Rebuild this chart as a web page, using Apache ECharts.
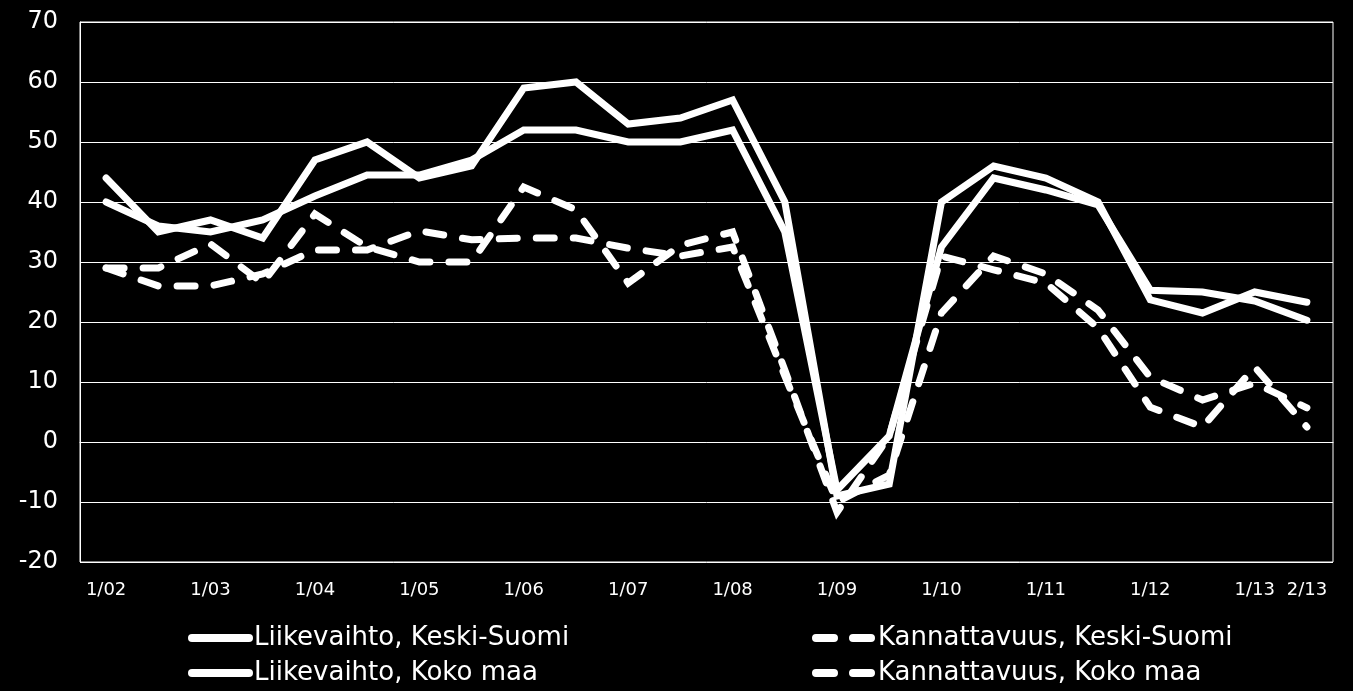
<!DOCTYPE html>
<html>
<head>
<meta charset="utf-8">
<title>Liikevaihto ja kannattavuus</title>
<script src="https://cdn.jsdelivr.net/npm/echarts@6/dist/echarts.min.js"></script>
<style>
  html, body { margin: 0; padding: 0; background: #000; }
  #main { width: 1353px; height: 691px; }
</style>
</head>
<body>
<div id="main"></div>
<script>
// puolivuosittaiset havainnot 1/02 ... 2/13
var periods = [
  '1/02', '2/02', '1/03', '2/03', '1/04', '2/04', '1/05', '2/05',
  '1/06', '2/06', '1/07', '2/07', '1/08', '2/08', '1/09', '2/09',
  '1/10', '2/10', '1/11', '2/11', '1/12', '2/12', '1/13', '2/13'
];

var liikevaihtoKS = [44, 35, 37, 34, 47, 50, 44, 46, 59, 60, 53, 54,
  57, 40, -9, -7, 40, 46, 44, 40, 23.7, 21.5, 25, 23.3];
var liikevaihtoKM = [40, 36, 35, 37, 41, 44.5, 44.5, 47, 52, 52, 50, 50,
  52, 35, -8, 1, 32.5, 44, 42, 39.5, 25.3, 25, 23.5, 20.3];
var kannattavuusKS = [29, 29, 33, 26.5, 38, 32.5, 30, 30, 42.5, 38.7, 26.5, 32.8,
  35, 12, -11.7, 1, 31, 28.7, 26.5, 19, 5.8, 2.5, 12.5, 2.5];
var kannattavuusKM = [29, 26, 26, 28, 32, 32, 35.2, 33.7, 34, 34, 32.3, 31,
  32.5, 11, -10, -5.5, 21.5, 31, 28, 22, 10.8, 7, 9.8, 5.7];

var yMin = -20, yMax = 70, yStep = 10;

var chart = echarts.init(document.getElementById('main'));

var solid = { color: '#fff', width: 7, cap: 'round', join: 'miter' };
var dashed = { color: '#fff', width: 7, type: [18, 19], cap: 'round', join: 'miter' };

var legendText = {
  color: '#fff',
  fontSize: 26,
  fontFamily: "'DejaVu Sans', sans-serif",
  lineHeight: 30
};

var legendBase = {
  orient: 'vertical',
  top: 623,
  padding: 0, itemGap: 5,
  itemWidth: 57, itemHeight: 8,
  selectedMode: false,
  itemStyle: { color: '#fff', opacity: 0 },
  lineStyle: { width: 8 },
  textStyle: legendText
};

var option = {
  backgroundColor: '#000',
  animation: false,
  grid: {
    left: 80, right: 20, top: 22, bottom: 129,
    show: true, borderColor: '#fff', borderWidth: 1
  },
  legend: [
    Object.assign({}, legendBase, {
      data: ['Liikevaihto, Keski-Suomi', 'Liikevaihto, Koko maa'],
      left: 188
    }),
    Object.assign({}, legendBase, {
      data: ['Kannattavuus, Keski-Suomi', 'Kannattavuus, Koko maa'],
      left: 812
    })
  ],
  xAxis: {
    type: 'category',
    data: periods,
    boundaryGap: true,
    axisLine: { lineStyle: { color: '#fff', width: 1 } },
    axisTick: { show: false },
    axisLabel: {
      color: '#fff',
      fontSize: 18,
      fontFamily: "'DejaVu Sans', sans-serif",
      margin: 19,
      interval: function (idx) { return idx % 2 === 0 || idx === periods.length - 1; }
    },
    splitLine: { show: false }
  },
  yAxis: {
    type: 'value',
    min: yMin, max: yMax, interval: yStep,
    axisLine: { show: true, lineStyle: { color: '#fff', width: 1 } },
    axisTick: { show: false },
    axisLabel: {
      color: '#fff',
      fontSize: 24,
      fontFamily: "'DejaVu Sans', sans-serif",
      margin: 22
    },
    splitLine: { lineStyle: { color: '#fff', width: 1 } }
  },
  series: [
    { name: 'Liikevaihto, Keski-Suomi', type: 'line', data: liikevaihtoKS,
      symbol: 'none', itemStyle: { color: '#fff' }, lineStyle: solid },
    { name: 'Kannattavuus, Keski-Suomi', type: 'line', data: kannattavuusKS,
      symbol: 'none', itemStyle: { color: '#fff' }, lineStyle: dashed },
    { name: 'Liikevaihto, Koko maa', type: 'line', data: liikevaihtoKM,
      symbol: 'none', itemStyle: { color: '#fff' }, lineStyle: solid },
    { name: 'Kannattavuus, Koko maa', type: 'line', data: kannattavuusKM,
      symbol: 'none', itemStyle: { color: '#fff' }, lineStyle: dashed }
  ]
};

chart.setOption(option);
</script>
</body>
</html>
